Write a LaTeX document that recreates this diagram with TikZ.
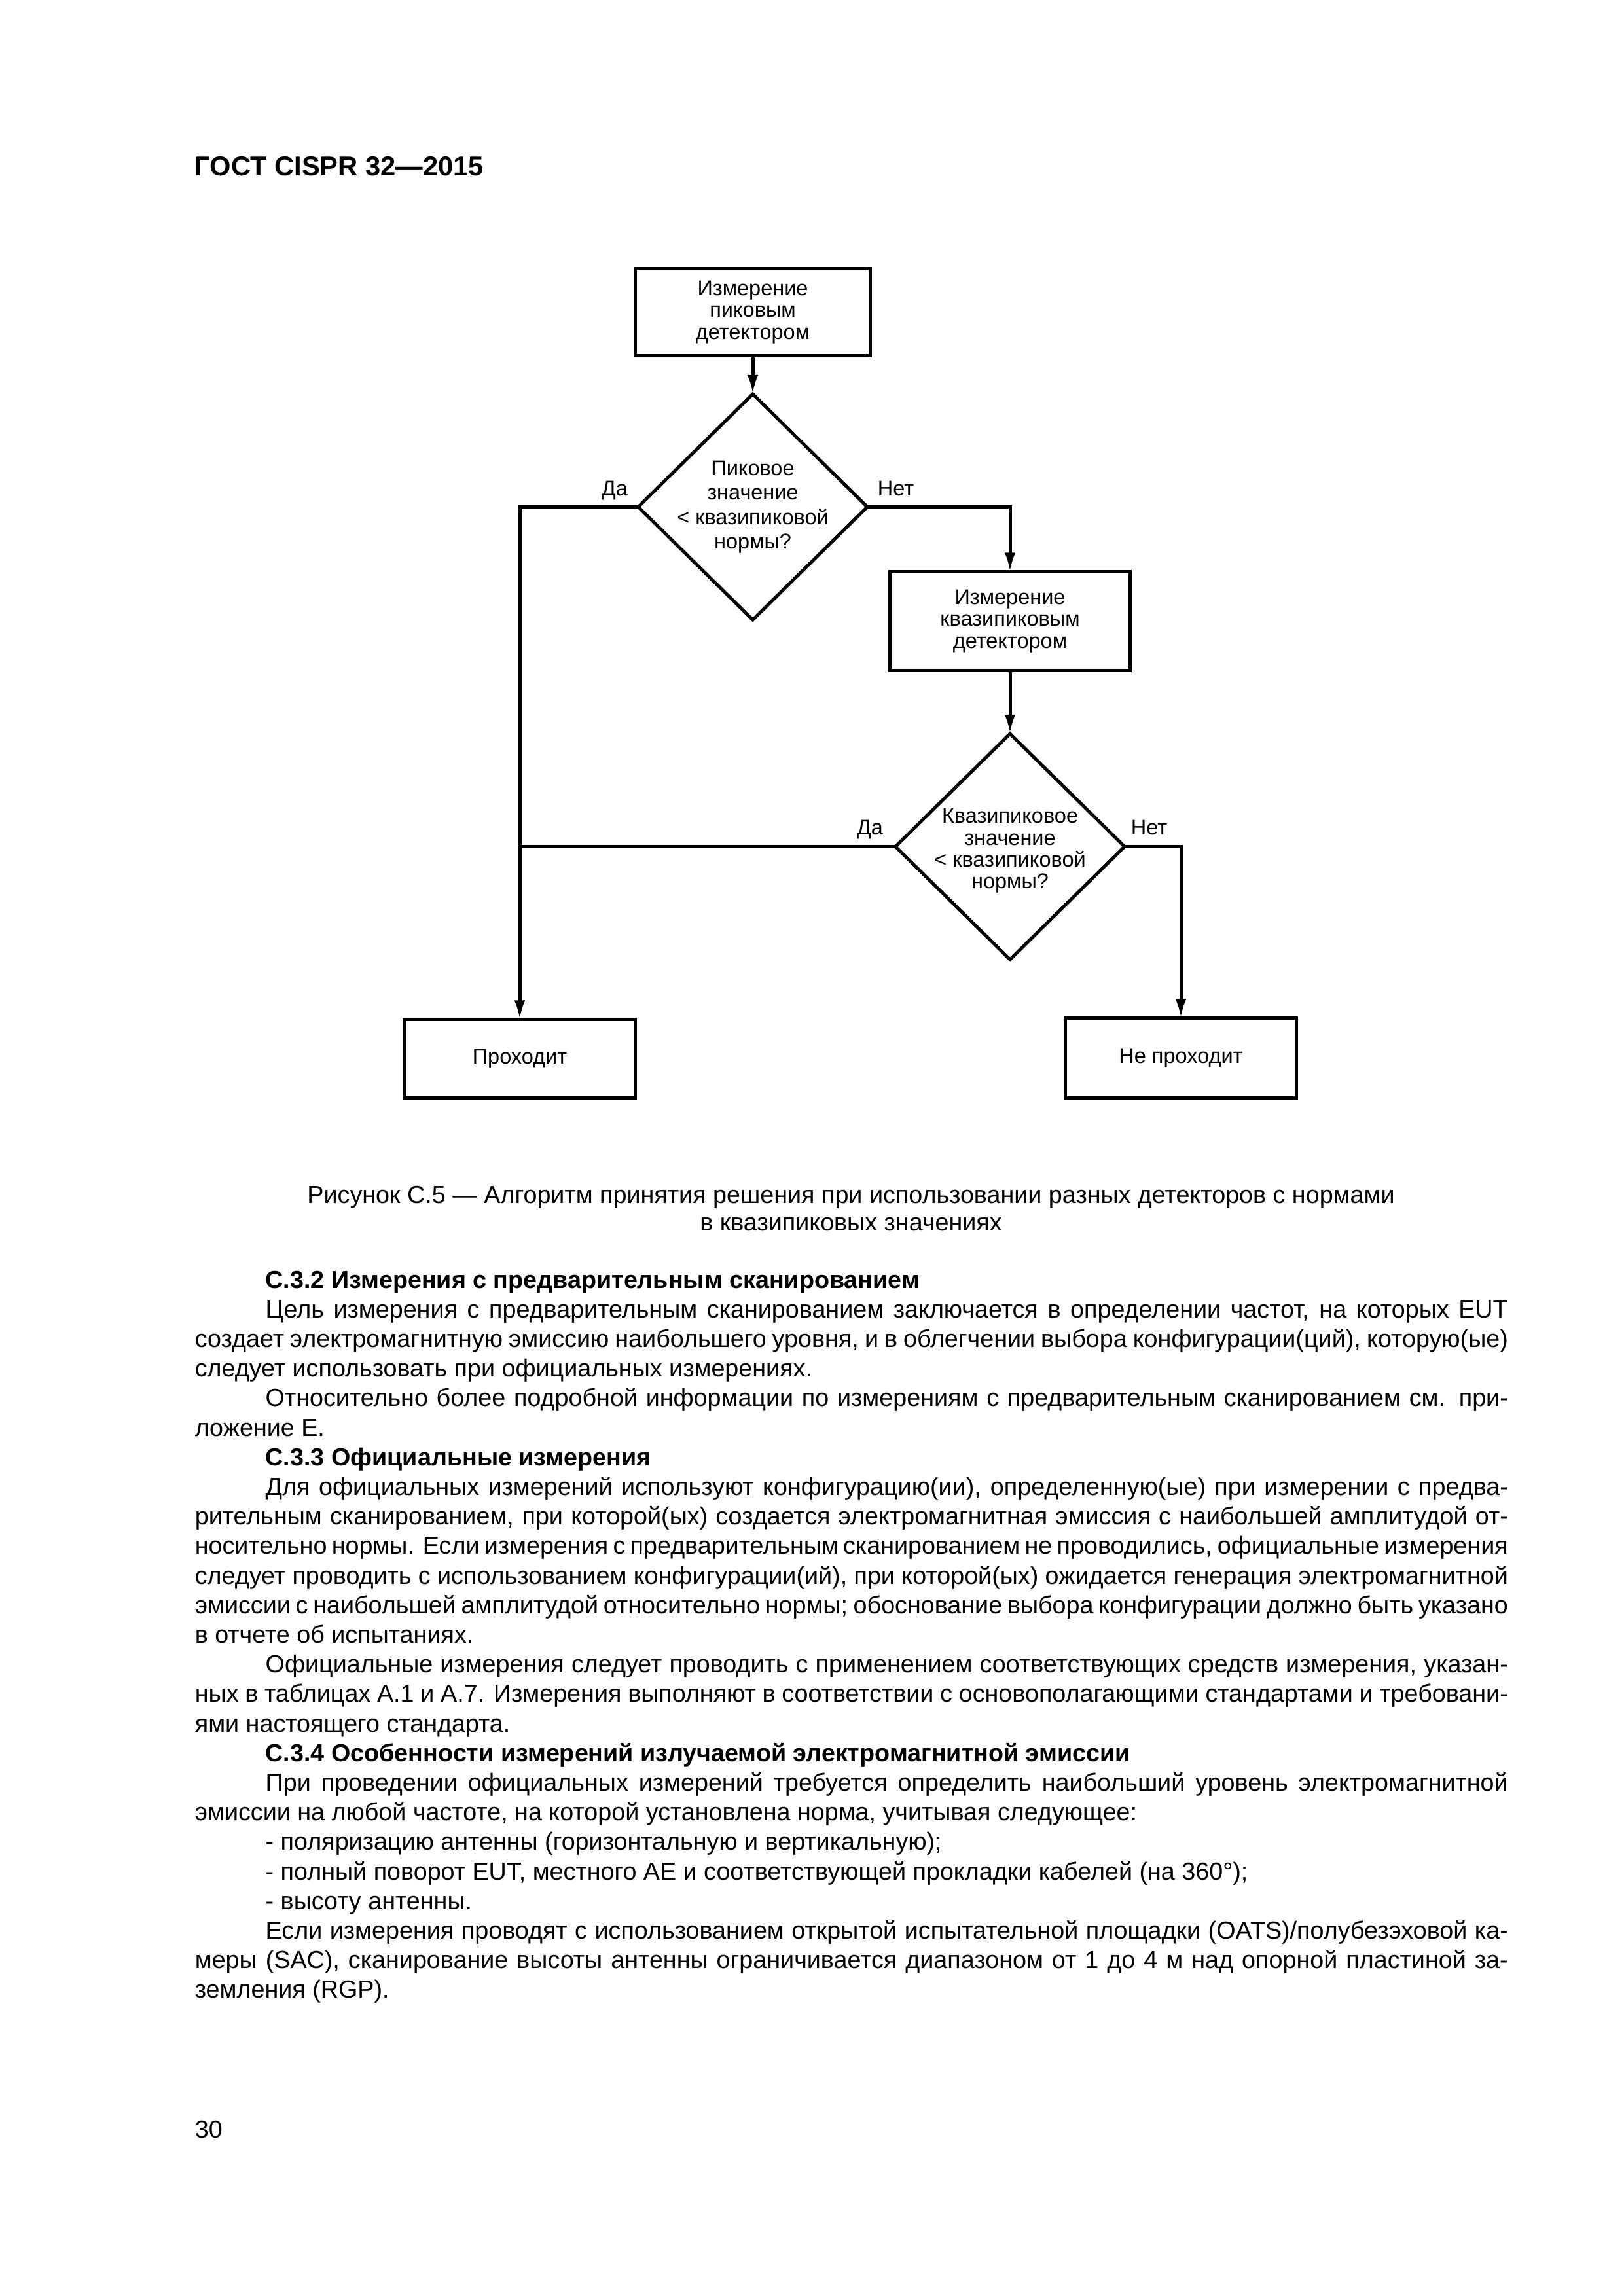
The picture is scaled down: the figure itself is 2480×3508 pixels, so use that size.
\documentclass[tikz,border=0pt]{standalone}
\usepackage{fontspec}
\setmainfont{Liberation Sans}
\usetikzlibrary{shapes.geometric,arrows.meta}
\newlength\textwd \setlength\textwd{481.5pt}
\newlength\pindent \setlength\pindent{25.9pt}
\newcommand\jl[1]{\hbox to \textwd{\spaceskip=0.278em plus 1em minus 0.12em\relax #1}}
\newcommand\jli[1]{\hbox to \textwd{\spaceskip=0.278em plus 1em minus 0.12em\relax\hskip\pindent #1}}
\newcommand\lastl[1]{\hbox to \textwd{#1\hfil}}
\newcommand\lastli[1]{\hbox to \textwd{\hskip\pindent #1\hfil}}
\newcommand\fcfont{\fontsize{7.8}{8}\selectfont}
\newcommand\fcfontb{\fontsize{7.8}{9}\selectfont}
\tikzset{
  procbox/.style={draw, line width=1.2pt, rectangle, inner sep=0pt, outer sep=0pt, align=center, font=\fcfont},
  decis/.style={draw, line width=1.2pt, diamond, inner sep=0pt, outer sep=0pt, minimum width=84pt, minimum height=82.8pt},
  dtext/.style={inner sep=0pt, align=center},
  lbl/.style={inner sep=0pt, anchor=base west, font=\fcfont},
  arr/.style={line width=1.2pt, -{Latex[length=7pt,width=4pt]}},
  conn/.style={line width=1.2pt},
  hdrtext/.style={inner sep=0pt, font=\fontsize{10}{10.85}\selectfont},
  ptext/.style={inner sep=0pt, font=\fontsize{9.05}{10.85}\selectfont}
}
\begin{document}
\begin{tikzpicture}[x=0.24003pt,y=-0.24003pt]
\fill[white] (0,0) rectangle (2480,3508);
\useasboundingbox (0,0) rectangle (2480,3508);

% header
\node[hdrtext, anchor=base west] (hdr) at (297,268) {\textbf{ГОСТ CISPR 32—2015}};

% flowchart
\node[procbox, minimum width=86.2pt, minimum height=31.9pt] (b1) at (1150,477) {Измерение\\пиковым\\детектором};
\node[decis] (d1) at (1150,774.5) {};
\node[dtext, font=\fcfontb] (d1t) at (1150,774.5) {Пиковое\\значение\\< квазипиковой\\нормы?};
\node[procbox, minimum width=88.1pt, minimum height=36.2pt] (b2) at (1543,949) {Измерение\\квазипиковым\\детектором};
\node[decis] (d2) at (1543,1293.5) {};
\node[dtext, font=\fcfont] (d2t) at (1543,1300) {Квазипиковое\\значение\\< квазипиковой\\нормы?};
\node[procbox, minimum width=84.7pt, minimum height=28.8pt] (pass) at (794,1617.5) {Проходит};
\node[procbox, minimum width=84.7pt, minimum height=29.3pt] (fail) at (1804,1616.5) {Не проходит};

\node[lbl] (da1) at (918,757) {Да};
\node[lbl] (net1) at (1340,757) {Нет};
\node[lbl] (da2) at (1308,1275) {Да};
\node[lbl] (net2) at (1727,1275) {Нет};

\draw[arr] (b1.south) -- (d1.north);
\draw[arr] (d1.west) -| (pass.north);
\draw[arr] (d1.east) -| (b2.north);
\draw[arr] (b2.south) -- (d2.north);
\draw[conn] (d2.west) -- (d2.west -| pass.north);
\draw[arr] (d2.east) -| (fail.north);

% caption
\node[ptext, anchor=base] (cap1) at (1300,1838) {Рисунок С.5 — Алгоритм принятия решения при использовании разных детекторов с нормами};
\node[ptext, anchor=base] (cap2) at (1300,1880) {в квазипиковых значениях};

% body text
\node[ptext, anchor=base west] (body) at (297,1968) {\vtop{\baselineskip=10.85pt\lineskiplimit=0pt\lineskip=0pt
\lastli{\textbf{С.3.2 Измерения с предварительным сканированием}}
\jli{Цель измерения с предварительным сканированием заключается в определении частот, на которых EUT}
\jl{создает электромагнитную эмиссию наибольшего уровня, и в облегчении выбора конфигурации(ций), которую(ые)}
\lastl{следует использовать при официальных измерениях.}
\jli{Относительно более подробной информации по измерениям с предварительным сканированием см. при-}
\lastl{ложение Е.}
\lastli{\textbf{С.3.3 Официальные измерения}}
\jli{Для официальных измерений используют конфигурацию(ии), определенную(ые) при измерении с предва-}
\jl{рительным сканированием, при которой(ых) создается электромагнитная эмиссия с наибольшей амплитудой от-}
\jl{носительно нормы. Если измерения с предварительным сканированием не проводились, официальные измерения}
\jl{следует проводить с использованием конфигурации(ий), при которой(ых) ожидается генерация электромагнитной}
\jl{эмиссии с наибольшей амплитудой относительно нормы; обоснование выбора конфигурации должно быть указано}
\lastl{в отчете об испытаниях.}
\jli{Официальные измерения следует проводить с применением соответствующих средств измерения, указан-}
\jl{ных в таблицах А.1 и А.7. Измерения выполняют в соответствии с основополагающими стандартами и требовани-}
\lastl{ями настоящего стандарта.}
\lastli{\textbf{С.3.4 Особенности измерений излучаемой электромагнитной эмиссии}}
\jli{При проведении официальных измерений требуется определить наибольший уровень электромагнитной}
\lastl{эмиссии на любой частоте, на которой установлена норма, учитывая следующее:}
\lastli{- поляризацию антенны (горизонтальную и вертикальную);}
\lastli{- полный поворот EUT, местного АЕ и соответствующей прокладки кабелей (на 360°);}
\lastli{- высоту антенны.}
\jli{Если измерения проводят с использованием открытой испытательной площадки (OATS)/полубезэховой ка-}
\jl{меры (SAC), сканирование высоты антенны ограничивается диапазоном от 1 до 4 м над опорной пластиной за-}
\lastl{земления (RGP).}
}};

% page number
\node[ptext, anchor=base west] (pg) at (297,3266) {30};
\end{tikzpicture}
\end{document}
